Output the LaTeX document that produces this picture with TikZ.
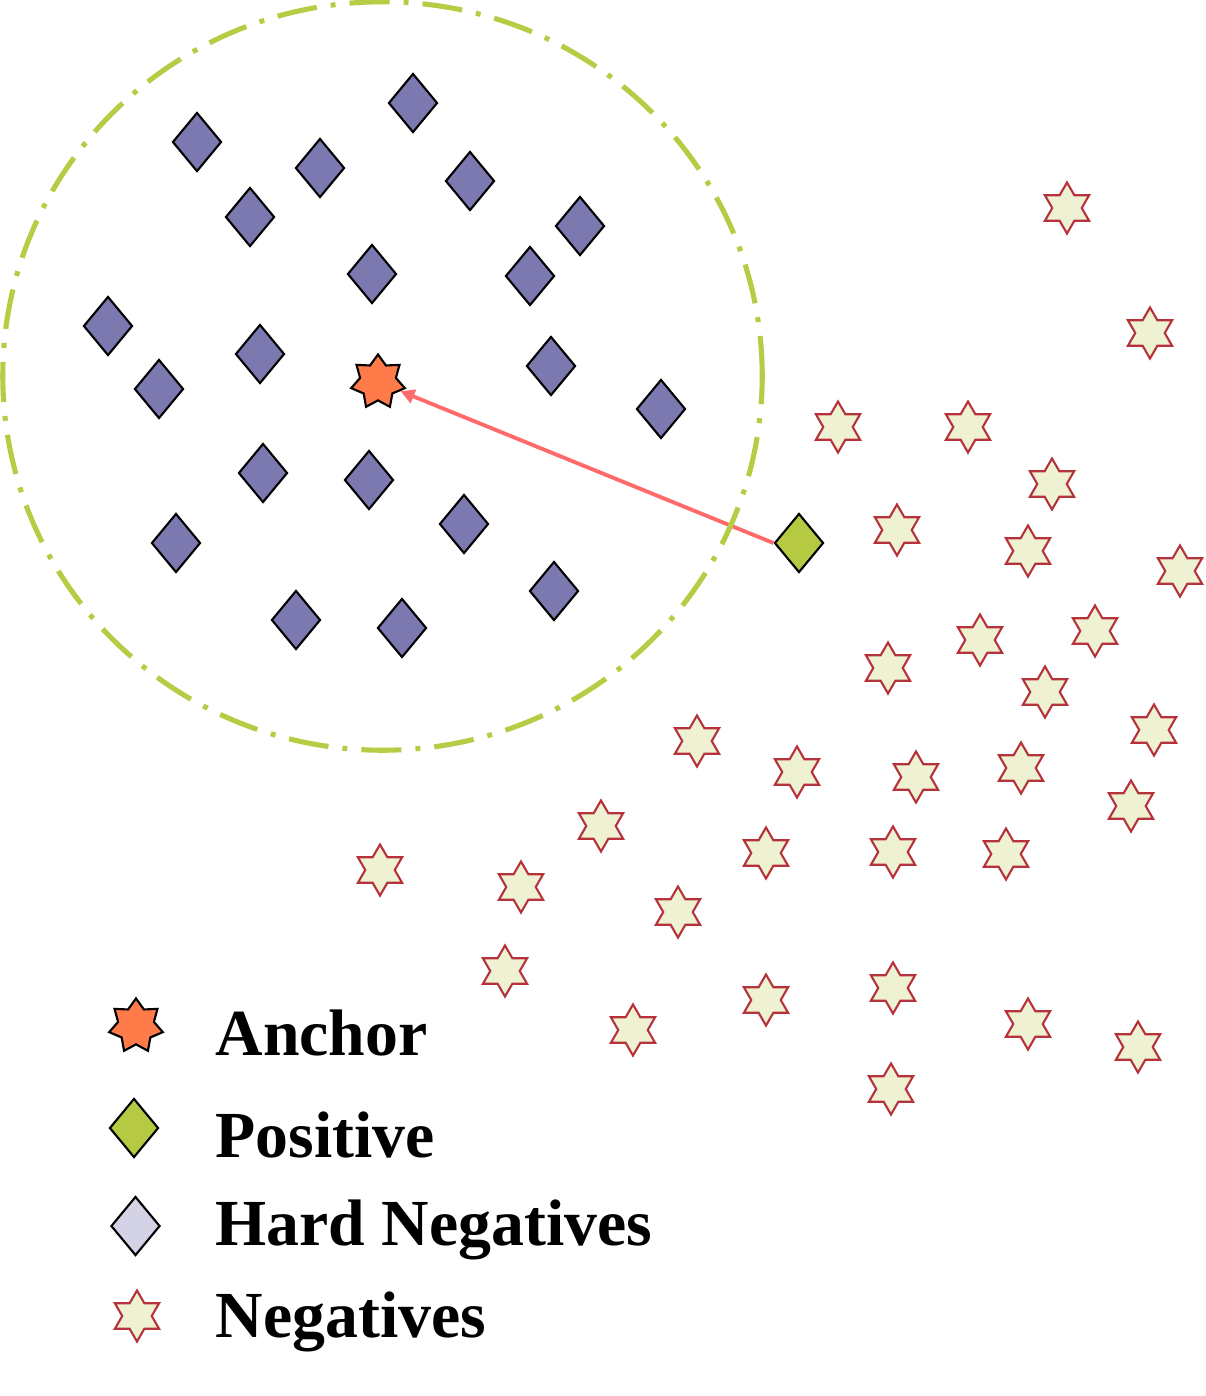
\documentclass[tikz,border=0pt]{standalone}
\usepackage{fontspec}
\setmainfont{Liberation Serif}
\usetikzlibrary{shapes.geometric,arrows.meta}
\definecolor{hardfill}{HTML}{7C78B0}
\definecolor{hardlegend}{HTML}{D4D3E6}
\definecolor{posfill}{HTML}{B5CA42}
\definecolor{ancfill}{HTML}{FF7B4A}
\definecolor{negfill}{HTML}{EEF2D3}
\definecolor{negdraw}{HTML}{B5323A}
\definecolor{ringcol}{HTML}{B7CC45}
\definecolor{arrcol}{HTML}{FF6B6B}
\tikzset{
  hardneg/.style={diamond,draw=black,fill=hardfill,line width=0.6pt,inner sep=0pt,minimum width=0.49cm,minimum height=0.59cm},
  hardleg/.style={hardneg,fill=hardlegend},
  posnode/.style={hardneg,fill=posfill},
  ancnode/.style={star,star points=7,star point ratio=1.5,draw=black,fill=ancfill,line width=0.6pt,inner sep=0pt,minimum size=0.55cm},
  negnode/.style={star,star points=6,star point ratio=1.732,draw=negdraw,fill=negfill,line width=0.6pt,inner sep=0pt,minimum size=0.51cm},
  legtext/.style={anchor=base west,font=\fontsize{18.7}{22}\selectfont\bfseries,inner sep=0pt}
}
\begin{document}
\begin{tikzpicture}[x=0.01cm,y=-0.01cm]
\useasboundingbox (0,0) rectangle (1205,1396);
% hard negatives
\foreach \x/\y [count=\i] in {413/103,197/142,320/168,470/181,250/217,580/226,372/274,530/276,108/326,260/354,159/389,551/366,661/409,263/473,369/480,464/524,176/543,554/591,296/620,402/628}
  \node[hardneg] (h\i) at (\x,\y) {};
% negatives
\foreach \x/\y [count=\i] in {1067/208,1150/333,838/427,968/427,1052/484,897/530,1028/551,1180/571,1095/631,980/640,888/668,1045/692,1154/730,697/741,797/772,916/777,1021/768,1131/806,601/826,766/853,893/852,1006/854,380/870,521/887,678/912,505/971,766/1000,893/988,633/1030,1028/1024,1138/1047,891/1089}
  \node[negnode] (n\i) at (\x,\y) {};
% anchor and positive
\node[ancnode] (anc) at (378,382) {};
\node[posnode] (pos) at (799,543) {};
\draw[arrcol,line width=1.1pt,-{Triangle[length=4pt,width=4pt]}] (pos.west) -- (anc);
% ring
\draw[ringcol,line width=1.45pt,dash pattern=on 11.4pt off 4pt on 1.4pt off 4pt] (382.5,376) ellipse [x radius=3.795cm, y radius=3.74cm];
% legend
\node[ancnode] (la) at (136,1026) {};
\node[posnode] (lp) at (134,1128) {};
\node[hardleg] (lh) at (135.5,1226) {};
\node[negnode] (ln) at (137,1316) {};
\node[legtext] (ta) at (215,1055) {Anchor};
\node[legtext] (tp) at (215,1157) {Positive};
\node[legtext] (th) at (215,1245) {Hard Negatives};
\node[legtext] (tn) at (215,1337) {Negatives};
\end{tikzpicture}
\end{document}
